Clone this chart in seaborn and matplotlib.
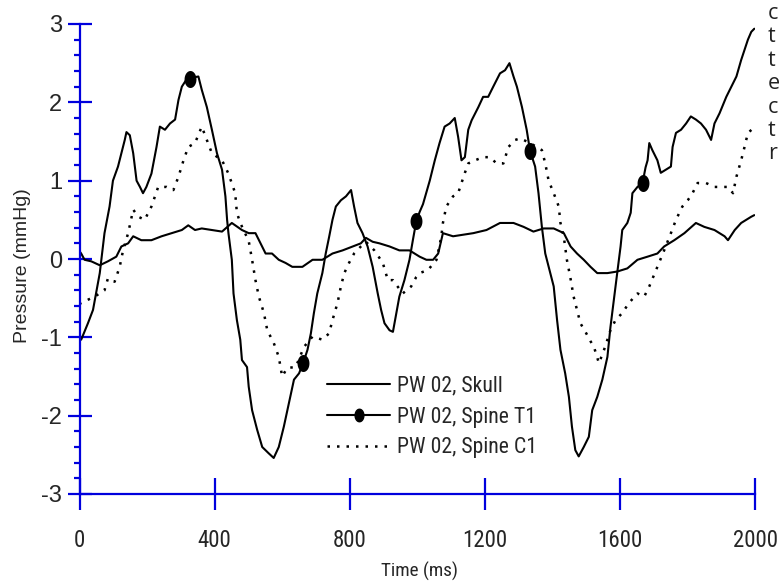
import numpy as np
import pandas as pd
import seaborn as sns
import matplotlib.pyplot as plt
from matplotlib.lines import Line2D
from matplotlib.ticker import MultipleLocator
from matplotlib.font_manager import FontProperties

# values
T1_T = [0, 5, 25, 40, 60, 74, 89, 99, 114, 124,
        134, 139, 149, 159, 169, 179, 188, 198, 213, 228,
        238, 253, 268, 283, 293, 303, 315, 327, 340, 352,
        362, 377, 392, 407, 422, 432, 437, 441, 451, 456,
        466, 476, 481, 496, 501, 511, 526, 541, 560, 575,
        590, 605, 620, 635, 650, 662, 675, 685, 694, 704,
        719, 729, 739, 749, 759, 774, 789, 804, 813, 823,
        838, 853, 868, 883, 893, 903, 918, 928, 938, 947,
        962, 977, 987, 997, 1007, 1017, 1037, 1052, 1066, 1081,
        1096, 1111, 1121, 1131, 1141, 1151, 1161, 1181, 1195, 1210,
        1225, 1245, 1260, 1273, 1285, 1295, 1310, 1324, 1334, 1349,
        1359, 1369, 1379, 1389, 1404, 1414, 1424, 1438, 1449, 1458,
        1468, 1478, 1493, 1508, 1518, 1533, 1548, 1563, 1572, 1582,
        1592, 1602, 1607, 1622, 1632, 1637, 1652, 1667, 1676, 1682,
        1687, 1696, 1711, 1721, 1736, 1751, 1756, 1766, 1781, 1796,
        1810, 1825, 1840, 1855, 1870, 1880, 1895, 1915, 1930, 1945,
        1959, 1969, 1979, 1989, 1998]
T1_P = [-0.98, -1.03, -0.82, -0.65, -0.18, 0.33, 0.67, 1.0, 1.18, 1.35,
        1.52, 1.62, 1.58, 1.35, 1.0, 0.92, 0.84, 0.92, 1.09, 1.43,
        1.69, 1.65, 1.73, 1.78, 2.03, 2.2, 2.28, 2.3, 2.32, 2.33,
        2.16, 1.94, 1.65, 1.35, 1.14, 0.8, 0.5, 0.33, -0.01, -0.44,
        -0.78, -1.03, -1.29, -1.38, -1.63, -1.93, -2.18, -2.4, -2.48, -2.54,
        -2.4, -2.14, -1.84, -1.54, -1.46, -1.33, -1.16, -0.95, -0.69, -0.44,
        -0.18, 0.07, 0.28, 0.5, 0.67, 0.75, 0.8, 0.88, 0.67, 0.46,
        0.33, 0.16, -0.1, -0.44, -0.65, -0.82, -0.91, -0.93, -0.69, -0.48,
        -0.27, -0.01, 0.24, 0.48, 0.6, 0.7, 1.0, 1.26, 1.48, 1.69,
        1.73, 1.8, 1.56, 1.26, 1.3, 1.65, 1.77, 1.94, 2.07, 2.07,
        2.2, 2.37, 2.41, 2.5, 2.33, 2.2, 1.94, 1.65, 1.38, 1.18,
        0.84, 0.41, 0.07, -0.1, -0.35, -0.78, -1.16, -1.46, -1.76, -2.14,
        -2.44, -2.52, -2.4, -2.27, -1.93, -1.76, -1.54, -1.25, -0.87, -0.52,
        -0.18, 0.16, 0.37, 0.46, 0.59, 0.84, 0.92, 0.97, 1.17, 1.26,
        1.48, 1.39, 1.26, 1.1, 1.14, 1.18, 1.43, 1.61, 1.65, 1.73,
        1.82, 1.78, 1.73, 1.65, 1.52, 1.73, 1.86, 2.07, 2.2, 2.33,
        2.54, 2.67, 2.8, 2.9, 2.94]

MARK_T = [327, 662, 997, 1334, 1667]
MARK_P = [2.3, -1.33, 0.48, 1.38, 0.97]

SKULL_T = [0, 5, 15, 35, 60, 84, 109, 124, 144, 159,
           183, 213, 243, 273, 303, 322, 342, 362, 392, 422,
           451, 481, 501, 521, 536, 551, 570, 590, 610, 630,
           660, 690, 719, 749, 779, 809, 833, 848, 868, 888,
           918, 947, 977, 1007, 1027, 1047, 1062, 1076, 1106, 1136,
           1166, 1205, 1245, 1285, 1315, 1344, 1374, 1404, 1434, 1454,
           1473, 1493, 1513, 1533, 1563, 1592, 1622, 1652, 1682, 1711,
           1731, 1761, 1791, 1825, 1850, 1880, 1910, 1920, 1940, 1959,
           1989, 1998]
SKULL_P = [0.1, 0.07, -0.01, -0.03, -0.08, -0.03, 0.03, 0.16, 0.2, 0.29,
           0.24, 0.24, 0.29, 0.33, 0.37, 0.43, 0.37, 0.39, 0.37, 0.35,
           0.46, 0.37, 0.33, 0.33, 0.2, 0.07, 0.07, -0.01, -0.05, -0.1,
           -0.1, -0.01, -0.01, 0.07, 0.11, 0.16, 0.2, 0.27, 0.22, 0.2,
           0.16, 0.11, 0.11, 0.03, -0.01, -0.01, 0.07, 0.33, 0.29, 0.31,
           0.33, 0.37, 0.46, 0.46, 0.41, 0.35, 0.39, 0.39, 0.33, 0.16,
           0.07, -0.01, -0.1, -0.18, -0.18, -0.16, -0.12, -0.01, 0.03, 0.07,
           0.16, 0.24, 0.33, 0.46, 0.41, 0.37, 0.29, 0.24, 0.37, 0.46,
           0.54, 0.56]

C1_T = [0, 5, 45, 74, 84, 104, 119, 129, 144, 159,
        174, 193, 213, 233, 258, 278, 293, 308, 322, 342,
        362, 377, 392, 422, 441, 461, 466, 476, 501, 511,
        521, 531, 546, 556, 575, 590, 600, 615, 640, 665,
        690, 719, 739, 749, 764, 774, 784, 798, 813, 833,
        848, 873, 898, 913, 928, 957, 982, 997, 1007, 1032,
        1057, 1071, 1076, 1086, 1106, 1121, 1131, 1141, 1151, 1171,
        1195, 1215, 1235, 1255, 1270, 1290, 1305, 1334, 1369, 1379,
        1389, 1404, 1419, 1424, 1434, 1443, 1453, 1463, 1473, 1483,
        1498, 1513, 1523, 1538, 1553, 1563, 1572, 1587, 1607, 1627,
        1652, 1672, 1687, 1711, 1731, 1751, 1766, 1785, 1801, 1815,
        1830, 1855, 1880, 1905, 1920, 1935, 1945, 1959, 1969, 1979,
        1990]
C1_P = [-0.58, -0.56, -0.48, -0.4, -0.25, -0.29, -0.1, 0.11, 0.33, 0.63,
        0.54, 0.5, 0.67, 0.92, 0.92, 0.88, 1.05, 1.26, 1.43, 1.48,
        1.69, 1.52, 1.35, 1.26, 1.09, 0.84, 0.59, 0.46, 0.23, -0.01,
        -0.27, -0.48, -0.69, -0.91, -1.07, -1.25, -1.5, -1.39, -1.38, -1.12,
        -0.99, -1.03, -0.95, -0.78, -0.56, -0.35, -0.18, -0.05, 0.07, 0.16,
        0.22, 0.11, -0.05, -0.27, -0.27, -0.44, -0.35, -0.23, -0.18, -0.14,
        -0.01, 0.28, 0.46, 0.67, 0.8, 0.84, 0.97, 1.1, 1.22, 1.26,
        1.3, 1.3, 1.22, 1.22, 1.43, 1.52, 1.54, 1.48, 1.39, 1.22,
        1.0, 0.84, 0.67, 0.46, 0.28, -0.01, -0.23, -0.48, -0.65, -0.82,
        -0.93, -1.05, -1.12, -1.33, -1.16, -1.03, -0.91, -0.78, -0.69, -0.56,
        -0.44, -0.48, -0.35, -0.1, 0.11, 0.33, 0.5, 0.67, 0.75, 0.84,
        0.97, 0.97, 0.92, 0.92, 0.92, 0.84, 1.05, 1.26, 1.43, 1.61,
        1.65]

LEGEND_LABELS = ['PW 02, Skull', 'PW 02, Spine T1', 'PW 02, Spine C1']
XTICKS = [0, 400, 800, 1200, 1600, 2000]
YTICKS = [-3, -2, -1, 0, 1, 2, 3]
RIGHT_LETTERS = ['c', 't', 't', 'e', 'c', 't', 'r']

BLUE = '#0000dd'
NARROW = ['Liberation Sans Narrow', 'Roboto Condensed', 'Liberation Sans',
          'DejaVu Sans']

sns.set_style('white')
plt.rcParams['font.family'] = ['Liberation Sans', 'DejaVu Sans']
plt.rcParams['axes.unicode_minus'] = False

fig = plt.figure(figsize=(7.81, 5.87), dpi=100)
ax = fig.add_axes([79.5 / 781, 93 / 587, 675.5 / 781, 470 / 587])

skull = pd.DataFrame({'t': SKULL_T, 'p': SKULL_P})
t1 = pd.DataFrame({'t': T1_T, 'p': T1_P})
c1 = pd.DataFrame({'t': C1_T, 'p': C1_P})

dots = (0, (1, 2.8))
sns.lineplot(data=skull, x='t', y='p', color='black', lw=1.5, ax=ax,
             estimator=None, sort=False)
sns.lineplot(data=t1, x='t', y='p', color='black', lw=1.5, ax=ax,
             estimator=None, sort=False)
sns.lineplot(data=c1, x='t', y='p', color='black', lw=1.8, ls=dots, ax=ax,
             estimator=None, sort=False)

# slightly tall ellipse, the source picture is squeezed sideways
th = np.linspace(0, 2 * np.pi, 41)
ell = list(zip(0.7 * np.cos(th), np.sin(th)))
sns.scatterplot(x=MARK_T, y=MARK_P, marker=ell, s=150, color='black',
                edgecolor='black', linewidth=0, ax=ax, zorder=5)

ax.set_xlim(0, 2000)
ax.set_ylim(-3, 3)
ax.set_xticks(XTICKS)
ax.set_yticks(YTICKS)
ax.yaxis.set_minor_locator(MultipleLocator(0.2))

for side in ['top', 'right']:
    ax.spines[side].set_visible(False)
for side in ['left', 'bottom']:
    ax.spines[side].set_color(BLUE)
    ax.spines[side].set_linewidth(1.6)

ax.tick_params(which='both', bottom=True, left=True, top=False, right=False)
ax.tick_params(axis='x', which='major', direction='inout', length=23,
               width=1.6, color=BLUE, labelsize=16.5, pad=14)
ax.tick_params(axis='y', which='major', direction='inout', length=17,
               width=1.6, color=BLUE, labelsize=17, pad=4)
ax.tick_params(axis='y', which='minor', direction='out', length=4.5,
               width=1.6, color=BLUE)
for lab in ax.get_xticklabels():
    lab.set_fontfamily(NARROW)

ax.set_xlabel('Time (ms)', fontsize=13.8, fontfamily=NARROW)
ax.set_ylabel('Pressure (mmHg)', fontsize=14)
ax.xaxis.set_label_coords(0.5026, -0.145)
ax.yaxis.set_label_coords(-0.072, 0.485)

handles = [
    Line2D([], [], color='black', lw=1.5),
    Line2D([], [], color='black', lw=1.5, marker=ell, markersize=9),
    Line2D([], [], color='black', lw=1.8, ls=dots),
]
ax.legend(handles, LEGEND_LABELS, loc='center left',
          bbox_to_anchor=(327 / 781, 1 - 417 / 587),
          bbox_transform=fig.transFigure, frameon=False,
          handlelength=2.9, handletextpad=0.32, labelspacing=0.45,
          borderpad=0, borderaxespad=0,
          prop=FontProperties(family=NARROW, size=15.7))

for i, ch in enumerate(RIGHT_LETTERS):
    fig.text(768 / 781, 1 - (19 + 23.4 * i) / 587, ch, ha='left',
             va='baseline', fontsize=15.5, color='#222222',
             fontfamily=['Open Sans', 'DejaVu Sans'])

fig.savefig('out.png', dpi=100)
